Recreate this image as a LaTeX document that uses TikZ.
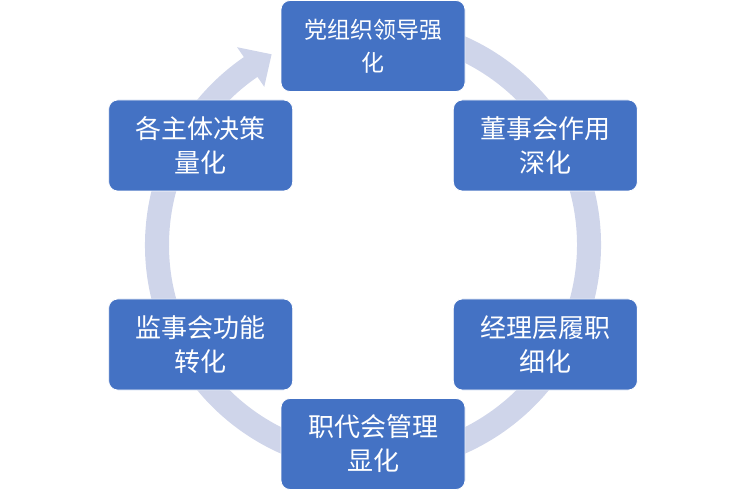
\documentclass[tikz,border=0pt]{standalone}
\usepackage{fontspec}
\newfontfamily\cjk{Noto Sans CJK SC}
\usetikzlibrary{calc}
\definecolor{boxblue}{HTML}{4472C4}
\definecolor{ringgray}{HTML}{CFD5EA}

\begin{document}
\begin{tikzpicture}[x=1pt, y=1pt,
    stage/.style={draw=white, line width=0.8pt, fill=boxblue, rounded corners=9pt,
        minimum width=184pt, minimum height=91pt, inner sep=2pt,
        align=center, text=white, font=\cjk\fontsize{26}{34}\selectfont},
    ]
\useasboundingbox (0,0) rectangle (746,490);
\coordinate (c) at (373,245);

% ring with arrow head
\fill[ringgray] ($(c)+(80:228)$) arc[start angle=80, end angle=-235.5, radius=228pt]
    -- ($(c)+(124.5:240)$) -- ($(c)+(118:216)$) -- ($(c)+(124.5:192)$)
    -- ($(c)+(124.5:204)$) arc[start angle=-235.5, end angle=80, radius=204pt] -- cycle;

\node[stage, font=\cjk\fontsize{23}{33}\selectfont] (dangzuzhi) at ($(c)+(90:199)$) {党组织领导强\\化};

\foreach \ang/\name/\txt in {30/dongshihui/{董事会作用\\深化},
    -30/jingliceng/{经理层履职\\细化},
    -90/zhidaihui/{职代会管理\\显化},
    -150/jianshihui/{监事会功能\\转化},
    150/juece/{各主体决策\\量化}}
    \node[stage] (\name) at ($(c)+(\ang:199)$) {\txt};

\end{tikzpicture}
\end{document}
